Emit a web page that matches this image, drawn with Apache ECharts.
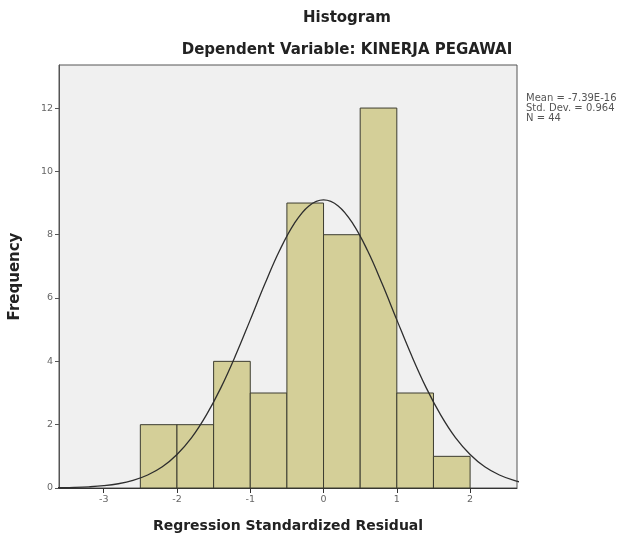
<!DOCTYPE html>
<html>
<head>
<meta charset="utf-8">
<script src="https://cdn.jsdelivr.net/npm/echarts@6/dist/echarts.min.js"></script>
<style>
  html, body { margin: 0; padding: 0; background: #fff; }
  #main { width: 625px; height: 541px; }
</style>
</head>
<body>
<div id="main"></div>
<script>
// histogram bins (width 0.5) and their counts
const binStart = [-2.5, -2.0, -1.5, -1.0, -0.5, 0.0, 0.5, 1.0, 1.5];
const binEnd = [-2.0, -1.5, -1.0, -0.5, 0.0, 0.5, 1.0, 1.5, 2.0];
const counts = [2, 2, 4, 3, 9, 8, 12, 3, 1];

// normal curve
const curveX = [-3.8, -3.6, -3.4, -3.2, -3.0, -2.8, -2.6, -2.4, -2.2, -2.0, -1.8, -1.6, -1.4, -1.2, -1.0,
  -0.8, -0.6, -0.4, -0.2, 0, 0.2, 0.4, 0.6, 0.8, 1.0, 1.2, 1.4, 1.6, 1.8, 2.0, 2.2, 2.4, 2.6, 2.8];
const curveY = [0.004, 0.009, 0.018, 0.037, 0.072, 0.134, 0.239, 0.41, 0.67, 1.06, 1.59, 2.30, 3.17, 4.19, 5.31,
  6.45, 7.50, 8.35, 8.91, 9.10, 8.91, 8.35, 7.50, 6.45, 5.31, 4.19, 3.17, 2.30, 1.59, 1.06, 0.67, 0.41, 0.239, 0.134];

const xTicks = [-3, -2, -1, 0, 1, 2];
const yTicks = [0, 2, 4, 6, 8, 10, 12];
const statsLines = ["Mean = -7.39E-16", "Std. Dev. = 0.964", "N = 44"];

const chart = echarts.init(document.getElementById("main"));

const barData = binStart.map((s, i) => [s, binEnd[i], counts[i]]);
const lineData = curveX.map((x, i) => [x, curveY[i]]);

const font = "'DejaVu Sans', Verdana, sans-serif";

const option = {
  animation: false,
  backgroundColor: "#ffffff",
  title: [
    {
      text: "Histogram",
      left: 342,
      top: 6,
      textAlign: "center",
      textStyle: { fontFamily: font, fontSize: 15, fontWeight: "bold", color: "#222" },
    },
    {
      text: "Dependent Variable: KINERJA PEGAWAI",
      left: 342,
      top: 38,
      textAlign: "center",
      textStyle: { fontFamily: font, fontSize: 15, fontWeight: "bold", color: "#222" },
    },
    {
      text: statsLines.join("\n"),
      left: 521,
      top: 88,
      textStyle: { fontFamily: font, fontSize: 10, fontWeight: "normal", color: "#555", lineHeight: 10 },
    },
  ],
  grid: {
    left: 55,
    right: 108,
    top: 65,
    bottom: 53,
    show: true,
    backgroundColor: "#f0f0f0",
    borderColor: "#555",
    borderWidth: 1,
  },
  xAxis: {
    type: "value",
    min: -3.61,
    max: 2.64,
    name: "Regression Standardized Residual",
    nameLocation: "middle",
    nameGap: 31,
    nameTextStyle: { fontFamily: font, fontSize: 14, fontWeight: "bold", color: "#222" },
    axisLine: { show: true, onZero: false, lineStyle: { color: "#333", width: 1 } },
    axisTick: { show: true, customValues: xTicks, length: 5, lineStyle: { color: "#333" } },
    axisLabel: { customValues: xTicks, fontFamily: font, fontSize: 9.5, color: "#666", margin: 7 },
    splitLine: { show: false },
  },
  yAxis: {
    type: "value",
    min: 0,
    max: 13.36,
    name: "Frequency",
    nameLocation: "middle",
    nameGap: 36,
    nameTextStyle: { fontFamily: font, fontSize: 15, fontWeight: "bold", color: "#222" },
    axisLine: { show: true, onZero: false, lineStyle: { color: "#555", width: 1 } },
    axisTick: { show: true, customValues: yTicks, length: 4, lineStyle: { color: "#555" } },
    axisLabel: { customValues: yTicks, fontFamily: font, fontSize: 9.5, color: "#666", margin: 6 },
    splitLine: { show: false },
  },
  series: [
    {
      type: "custom",
      data: barData,
      renderItem: function (params, api) {
        const topLeft = api.coord([api.value(0), api.value(2)]);
        const bottomRight = api.coord([api.value(1), 0]);
        return {
          type: "rect",
          shape: {
            x: topLeft[0],
            y: topLeft[1],
            width: bottomRight[0] - topLeft[0],
            height: bottomRight[1] - topLeft[1],
          },
          style: { fill: "#d4cf98", stroke: "#3c3c30", lineWidth: 1 },
        };
      },
      z: 2,
    },
    {
      type: "line",
      data: lineData,
      smooth: 0.4,
      symbol: "none",
      clip: true,
      lineStyle: { color: "#2e2e2e", width: 1.3 },
      z: 3,
    },
  ],
};

chart.setOption(option);
</script>
</body>
</html>
